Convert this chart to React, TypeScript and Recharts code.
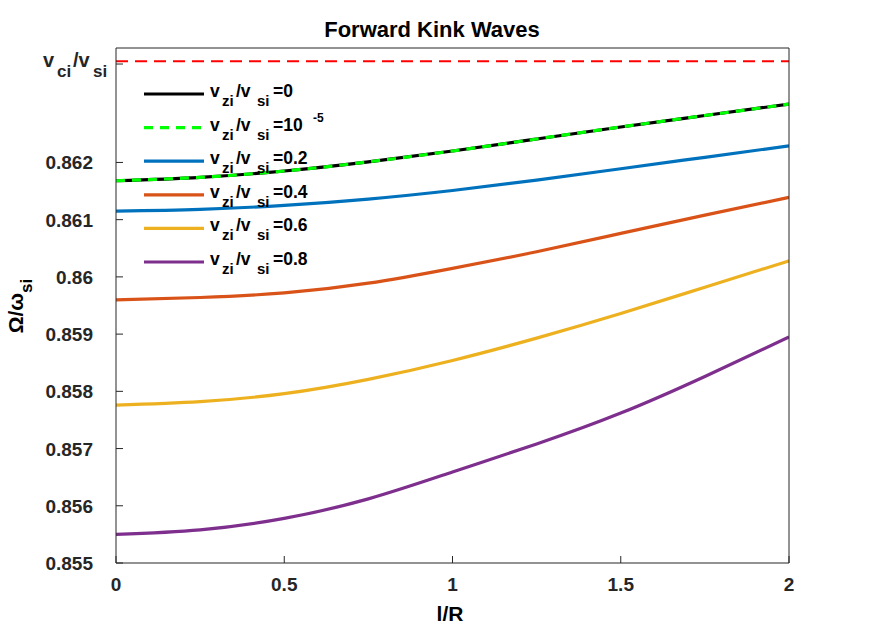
import { LineChart, Line, XAxis, YAxis, ReferenceLine, Legend } from "recharts";

// l/R sample positions
const lOverR = [0, 0.25, 0.5, 0.75, 1, 1.25, 1.5, 1.75, 2];

// Omega / omega_si
const vzi0 = [0.86168, 0.86174, 0.86185, 0.86201, 0.8622, 0.86241, 0.86262, 0.86282, 0.86302];
const vzi1e5 = [0.86168, 0.86174, 0.86185, 0.86201, 0.8622, 0.86241, 0.86262, 0.86282, 0.86302];
const vzi02 = [0.86115, 0.86118, 0.86125, 0.86136, 0.86151, 0.86169, 0.86189, 0.86209, 0.86229];
const vzi04 = [0.8596, 0.85964, 0.85972, 0.85989, 0.86015, 0.86044, 0.86076, 0.86108, 0.86139];
const vzi06 = [0.85776, 0.85782, 0.85796, 0.85821, 0.85854, 0.85893, 0.85936, 0.85982, 0.86028];
const vzi08 = [0.8555, 0.85558, 0.85578, 0.85612, 0.85659, 0.85708, 0.85762, 0.85826, 0.85895];

const xTicks = [0, 0.5, 1, 1.5, 2];
const yTicks = [0.855, 0.856, 0.857, 0.858, 0.859, 0.86, 0.861, 0.862];
const VCI_TICK = 0.86372;
const VCI_LINE = 0.86377;

const AXIS = "#262626";
const FONT = '"Liberation Sans", Arial, Helvetica, sans-serif';

const data = lOverR.map((x, i) => ({
  x,
  vzi0: vzi0[i],
  vzi1e5: vzi1e5[i],
  vzi02: vzi02[i],
  vzi04: vzi04[i],
  vzi06: vzi06[i],
  vzi08: vzi08[i],
}));

type Series = {
  key: string;
  color: string;
  dash?: string;
  value: string;
  sup?: string;
};

const series: Series[] = [
  { key: "vzi0", color: "#000000", value: "0" },
  { key: "vzi1e5", color: "#00ff00", dash: "9 7", value: "10", sup: "-5" },
  { key: "vzi02", color: "#0072bd", value: "0.2" },
  { key: "vzi04", color: "#d95319", value: "0.4" },
  { key: "vzi06", color: "#edb120", value: "0.6" },
  { key: "vzi08", color: "#7e2f8e", value: "0.8" },
];

const fmt = (v: number) => String(Number(v.toFixed(3)));

function YTick(props: any) {
  const { x, y, payload } = props;
  const v = payload.value as number;
  if (v === VCI_TICK) {
    return (
      <text fill={AXIS} fontWeight={700} fontFamily={FONT}>
        <tspan x={x - 50} y={y + 3} fontSize={20}>v</tspan>
        <tspan x={x - 36} y={y + 12.5} fontSize={17}>ci</tspan>
        <tspan x={x - 20} y={y + 3} fontSize={20}>/v</tspan>
        <tspan x={x} y={y + 12.5} fontSize={17}>si</tspan>
      </text>
    );
  }
  return (
    <text
      x={x}
      y={y}
      dy={7}
      textAnchor="end"
      fill={AXIS}
      fontSize={19}
      fontWeight={700}
      fontFamily={FONT}
    >
      {fmt(v)}
    </text>
  );
}

function LegendBox() {
  return (
    <svg width={220} height={200} style={{ fontFamily: FONT }}>
      {series.map((s, i) => {
        const cy = 18 + i * 33.6;
        return (
          <g key={s.key}>
            <line
              x1={4}
              x2={64}
              y1={cy}
              y2={cy}
              stroke={s.color}
              strokeWidth={3.2}
              strokeDasharray={s.dash}
            />
            <text fill="#000" fontWeight={700}>
              <tspan x={70} y={cy + 3} fontSize={17.5}>v</tspan>
              <tspan x={82} y={cy + 12} fontSize={15}>zi</tspan>
              <tspan x={96} y={cy + 3} fontSize={17.5}>/v</tspan>
              <tspan x={117} y={cy + 12} fontSize={15}>si</tspan>
              <tspan x={133} y={cy + 3} fontSize={17.5}>={s.value}</tspan>
              {s.sup && (
                <tspan x={173} y={cy - 6} fontSize={12}>{s.sup}</tspan>
              )}
            </text>
          </g>
        );
      })}
    </svg>
  );
}

export default function App() {
  return (
    <div
      style={{
        position: "absolute",
        left: 0,
        top: 0,
        width: 872,
        height: 632,
        background: "#fff",
        fontFamily: FONT,
      }}
    >
      <LineChart
        width={872}
        height={632}
        data={data}
        margin={{ top: 38, right: 73, bottom: 39, left: 56 }}
        style={{ fontFamily: FONT }}
      >
        <XAxis
          xAxisId="bottom"
          dataKey="x"
          type="number"
          domain={[0, 2]}
          ticks={xTicks}
          height={30}
          tickSize={-7}
          tickMargin={22}
          axisLine={{ stroke: AXIS }}
          tickLine={{ stroke: AXIS }}
          tick={{ fill: AXIS, fontSize: 19, fontWeight: 700 }}
          allowDataOverflow
        />
        <XAxis
          xAxisId="top"
          orientation="top"
          type="number"
          domain={[0, 2]}
          ticks={xTicks}
          height={10}
          tickSize={-7}
          tick={false}
          axisLine={{ stroke: AXIS }}
          tickLine={{ stroke: AXIS }}
          allowDataOverflow
        />
        <YAxis
          yAxisId="left"
          type="number"
          domain={[0.855, 0.864]}
          ticks={[...yTicks, VCI_TICK]}
          width={60}
          tickSize={-7}
          tickMargin={30}
          axisLine={{ stroke: AXIS }}
          tickLine={{ stroke: AXIS }}
          tick={<YTick />}
          interval={0}
          allowDataOverflow
        />
        <YAxis
          yAxisId="right"
          orientation="right"
          type="number"
          domain={[0.855, 0.864]}
          ticks={[...yTicks, VCI_TICK]}
          width={10}
          tickSize={-7}
          tick={false}
          axisLine={{ stroke: AXIS }}
          tickLine={{ stroke: AXIS }}
          interval={0}
          allowDataOverflow
        />
        <ReferenceLine
          xAxisId="bottom"
          yAxisId="left"
          y={VCI_LINE}
          stroke="#ff0000"
          strokeWidth={2}
          strokeDasharray="12 7"
        />
        {series.map((s) => (
          <Line
            key={s.key}
            xAxisId="bottom"
            yAxisId="left"
            dataKey={s.key}
            type="natural"
            stroke={s.color}
            strokeWidth={3.2}
            strokeDasharray={s.dash}
            dot={false}
            activeDot={false}
            isAnimationActive={false}
          />
        ))}
        <Legend
          layout="vertical"
          align="center"
          verticalAlign="middle"
          content={() => <LegendBox />}
          wrapperStyle={{ left: 140, top: 76, width: 220, height: 200 }}
        />
      </LineChart>
      <svg
        width={872}
        height={632}
        style={{ position: "absolute", left: 0, top: 0, pointerEvents: "none" }}
      >
        <text
          x={432}
          y={37}
          textAnchor="middle"
          fontSize={22}
          fontWeight={700}
          fill="#000"
        >
          Forward Kink Waves
        </text>
        <text
          x={450}
          y={621}
          textAnchor="middle"
          fontSize={21}
          fontWeight={700}
          fill="#000"
        >
          l/R
        </text>
        <text
          x={23}
          y={306}
          textAnchor="middle"
          fontWeight={700}
          fill="#000"
          transform="rotate(-90 23 306)"
        >
          <tspan fontSize={21}>Ω/ω</tspan>
          <tspan fontSize={17} dy={9}>si</tspan>
        </text>
      </svg>
    </div>
  );
}
